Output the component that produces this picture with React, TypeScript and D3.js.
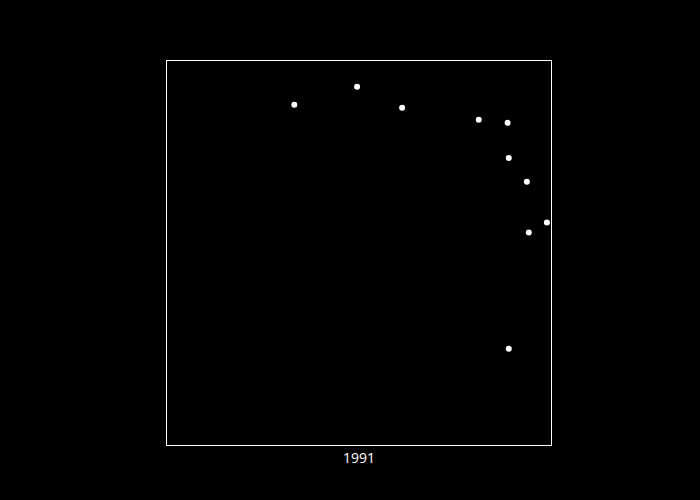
import React, { useEffect, useRef } from "react";
import * as d3 from "d3";

// values, on a 0-100 scale for both axes
const xValues = [33.2, 49.5, 61.2, 81.1, 88.6, 88.9, 93.6, 98.8, 94.1, 88.9];
const yValues = [88.5, 93.2, 87.7, 84.6, 83.8, 74.7, 68.5, 57.9, 55.3, 25.1];
const yearLabel = "1991";

export default function App() {
    const svgRef = useRef<SVGSVGElement | null>(null);

    useEffect(() => {
        if (!svgRef.current) return;
        const width = 700;
        const height = 500;
        const margin = { top: 60.5, left: 166.5, size: 385 };

        const svg = d3.select(svgRef.current);
        svg.selectAll("*").remove();

        svg.append("rect")
            .attr("width", width)
            .attr("height", height)
            .attr("fill", "#000000");

        const x = d3.scaleLinear()
            .domain([0, 100])
            .range([margin.left, margin.left + margin.size]);
        const y = d3.scaleLinear()
            .domain([0, 100])
            .range([margin.top + margin.size, margin.top]);

        svg.append("rect")
            .attr("x", margin.left)
            .attr("y", margin.top)
            .attr("width", margin.size)
            .attr("height", margin.size)
            .attr("fill", "none")
            .attr("stroke", "#ffffff")
            .attr("stroke-width", 1);

        const points = xValues.map((v, i) => ({ x: v, y: yValues[i] }));

        svg.selectAll(".dot")
            .data(points)
            .join("circle")
            .attr("class", "dot")
            .attr("cx", d => x(d.x))
            .attr("cy", d => y(d.y))
            .attr("r", 3)
            .attr("fill", "#ffffff");

        svg.append("text")
            .attr("x", margin.left + margin.size / 2)
            .attr("y", margin.top + margin.size + 17)
            .attr("text-anchor", "middle")
            .attr("fill", "#ffffff")
            .style("font-family", "'Open Sans', verdana, arial, sans-serif")
            .style("font-size", "14px")
            .text(yearLabel);
    }, []);

    return (
        <div style={{ position: "absolute", left: 0, top: 0 }}>
            <svg ref={svgRef} width={700} height={500} style={{ display: "block" }} />
        </div>
    );
}
